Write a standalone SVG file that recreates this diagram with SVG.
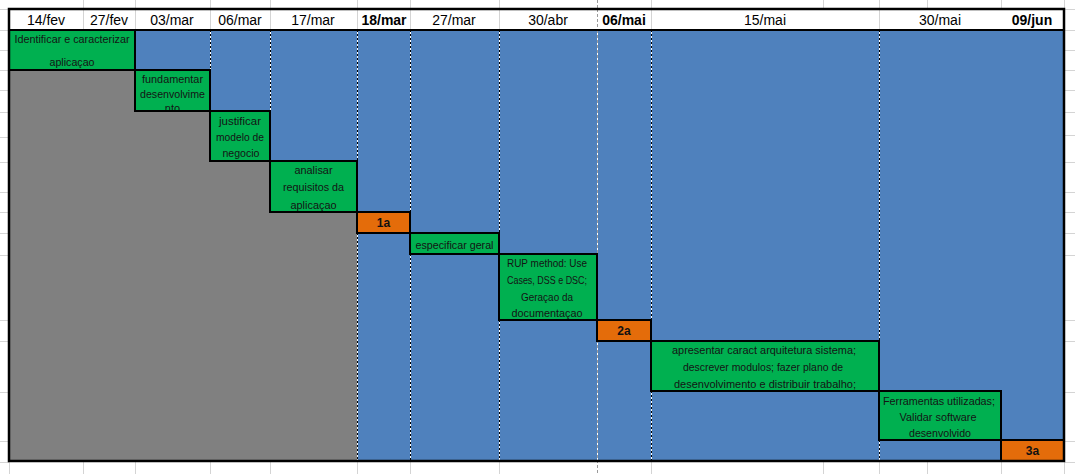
<svg xmlns="http://www.w3.org/2000/svg" width="1075" height="474" viewBox="0 0 1075 474">
<style>
.grid{stroke:#d4d4d4;stroke-width:1;fill:none}
.task{fill:#00b050;stroke:#000;stroke-width:2}
.ms{fill:#e46c0a;stroke:#000;stroke-width:2}
.t{font-family:"Liberation Sans",Arial,sans-serif;font-size:11px;fill:#141414;text-anchor:middle}
.mt{font-family:"Liberation Sans",Arial,sans-serif;font-size:12px;font-weight:bold;fill:#111;text-anchor:middle}
.h{font-family:"Liberation Sans",Arial,sans-serif;font-size:14px;fill:#000;text-anchor:middle}
.hb{font-weight:bold}
.dw{stroke:#fff;stroke-width:1}
.dk{stroke:#000;stroke-width:1;stroke-dasharray:2 2}
.pb{stroke:#9a9a9a;stroke-width:1;stroke-dasharray:3 2}
</style>
<defs>
<clipPath id="c2"><rect x="136" y="71" width="73" height="39"/></clipPath>
</defs>
<rect x="0" y="0" width="1075" height="474" fill="#fff"/>
<g id="outer-grid" class="grid">
<path d="M83.5 0V9M135.5 0V9M210.5 0V9M270.5 0V9M357.5 0V9M410.5 0V9M499.5 0V9M651.5 0V9M823.5 0V9M879.5 0V9M927.5 0V9M1001.5 0V9M1064.5 0V9"/>
<path d="M9.5 462V474M83.5 462V474M135.5 462V474M210.5 462V474M270.5 462V474M357.5 462V474M410.5 462V474M499.5 462V474M651.5 462V474M823.5 462V474M879.5 462V474M927.5 462V474M1001.5 462V474M1064.5 462V474"/>
<path d="M0 9.5H9M0 30.5H9M0 50.5H9M0 70.5H9M0 90.5H9M0 112.5H9M0 137.5H9M0 162.5H9M0 192.5H9M0 212.5H9M0 233.5H9M0 255.5H9M0 320.5H9M0 341.5H9M0 392.5H9M0 441.5H9M0 462.5H9"/>
<path d="M1064 9.5H1075M1064 30.5H1075M1064 50.5H1075M1064 70.5H1075M1064 90.5H1075M1064 112.5H1075M1064 135.5H1075M1064 162.5H1075M1064 192.5H1075M1064 212.5H1075M1064 233.5H1075M1064 255.5H1075M1064 320.5H1075M1064 341.5H1075M1064 392.5H1075M1064 441.5H1075M1064 462.5H1075"/>
</g>
<g id="chart-area">
<rect x="9" y="30" width="1055" height="431" fill="#4f81bd"/>
<polygon points="9,70 135,70 135,111 210,111 210,161 270,161 270,212 357,212 357,461 9,461" fill="#808080"/>
</g>
<g id="connectors">
<g class="dw">
<path d="M210.5 30V111M270.5 30V161M357.5 30V212M357.5 233V461M410.5 30V233M410.5 254V461M499.5 30V254M499.5 320V461M651.5 30V341M651.5 391V461M879.5 30V391M879.5 440V461M597.5 0V474"/>
</g>
<g class="dk">
<path d="M210.5 30V111M270.5 30V161M357.5 30V212M357.5 233V461M410.5 30V233M410.5 254V461M499.5 30V254M499.5 320V461M651.5 30V341M651.5 391V461M879.5 30V391M879.5 440V461"/>
</g>
<path class="pb" d="M597.5 0V474"/>
</g>
<g id="header">
<rect x="9" y="9" width="1055" height="21" fill="#fff"/>
<path class="grid" d="M83.5 9V30M135.5 9V30M210.5 9V30M270.5 9V30M357.5 9V30M410.5 9V30M499.5 9V30M651.5 9V30M879.5 9V30"/>
<path class="pb" d="M597.5 9V30"/>
<text class="h" x="46" y="25">14/fev</text>
<text class="h" x="109" y="25">27/fev</text>
<text class="h" x="172" y="25">03/mar</text>
<text class="h" x="240" y="25">06/mar</text>
<text class="h" x="313" y="25">17/mar</text>
<text class="h hb" x="384" y="25">18/mar</text>
<text class="h" x="454" y="25">27/mar</text>
<text class="h" x="548" y="25">30/abr</text>
<text class="h hb" x="624" y="25">06/mai</text>
<text class="h" x="765" y="25">15/mai</text>
<text class="h" x="940" y="25">30/mai</text>
<text class="h hb" x="1032" y="25">09/jun</text>
</g>
<g id="task1">
<rect class="task" x="9" y="30" width="126" height="40"/>
<text class="t" x="72" y="42.5" textLength="115" lengthAdjust="spacingAndGlyphs">Identificar e caracterizar</text>
<text class="t" x="72" y="66" textLength="45" lengthAdjust="spacingAndGlyphs">aplicaçao</text>
</g>
<g id="task2">
<rect class="task" x="135" y="70" width="75" height="41"/>
<g clip-path="url(#c2)">
<text class="t" x="172.5" y="83" textLength="61" lengthAdjust="spacingAndGlyphs">fundamentar</text>
<text class="t" x="172.5" y="97.5" textLength="65" lengthAdjust="spacingAndGlyphs">desenvolvime</text>
<text class="t" x="172.5" y="112">nto</text>
</g>
</g>
<g id="task3">
<rect class="task" x="210" y="111" width="60" height="50"/>
<text class="t" x="240" y="125" textLength="42" lengthAdjust="spacingAndGlyphs">justificar</text>
<text class="t" x="240" y="141" textLength="48" lengthAdjust="spacingAndGlyphs">modelo de</text>
<text class="t" x="241" y="157" textLength="37" lengthAdjust="spacingAndGlyphs">negocio</text>
</g>
<g id="task4">
<rect class="task" x="270" y="161" width="87" height="51"/>
<text class="t" x="313.5" y="174" textLength="38" lengthAdjust="spacingAndGlyphs">analisar</text>
<text class="t" x="313.5" y="191" textLength="61" lengthAdjust="spacingAndGlyphs">requisitos da</text>
<text class="t" x="313.5" y="208.5" textLength="46" lengthAdjust="spacingAndGlyphs">aplicaçao</text>
</g>
<g id="milestone1">
<rect class="ms" x="357" y="212" width="53" height="21"/>
<text class="mt" x="383.5" y="227">1a</text>
</g>
<g id="task5">
<rect class="task" x="410" y="233" width="89" height="21"/>
<text class="t" x="454.5" y="248.5" textLength="78" lengthAdjust="spacingAndGlyphs">especificar geral</text>
</g>
<g id="task6">
<rect class="task" x="499" y="254" width="98" height="66"/>
<text class="t" x="547" y="267" textLength="80" lengthAdjust="spacingAndGlyphs">RUP method: Use</text>
<text class="t" x="547" y="284" textLength="80" lengthAdjust="spacingAndGlyphs">Cases, DSS e DSC;</text>
<text class="t" x="547" y="301" textLength="52" lengthAdjust="spacingAndGlyphs">Geraçao da</text>
<text class="t" x="547" y="317" textLength="71" lengthAdjust="spacingAndGlyphs">documentaçao</text>
</g>
<g id="milestone2">
<rect class="ms" x="597" y="320" width="54" height="21"/>
<text class="mt" x="624" y="335">2a</text>
</g>
<g id="task7">
<rect class="task" x="651" y="341" width="228" height="50"/>
<text class="t" x="764" y="354" textLength="184" lengthAdjust="spacingAndGlyphs">apresentar caract arquitetura sistema;</text>
<text class="t" x="763" y="371" textLength="160" lengthAdjust="spacingAndGlyphs">descrever modulos; fazer plano de</text>
<text class="t" x="765" y="388" textLength="182" lengthAdjust="spacingAndGlyphs">desenvolvimento e distribuir trabalho;</text>
</g>
<g id="task8">
<rect class="task" x="879" y="391" width="122" height="49"/>
<text class="t" x="939" y="405" textLength="112" lengthAdjust="spacingAndGlyphs">Ferramentas utilizadas;</text>
<text class="t" x="938" y="421" textLength="77" lengthAdjust="spacingAndGlyphs">Validar software</text>
<text class="t" x="940" y="437" textLength="62" lengthAdjust="spacingAndGlyphs">desenvolvido</text>
</g>
<g id="milestone3">
<rect class="ms" x="1001" y="440" width="63" height="21"/>
<text class="mt" x="1032.5" y="455">3a</text>
</g>
<g id="frame" fill="none" stroke="#000">
<line x1="9" y1="30" x2="1064" y2="30" stroke-width="2"/>
<rect x="9" y="9" width="1055" height="452" stroke-width="2.5"/>
</g>
</svg>
